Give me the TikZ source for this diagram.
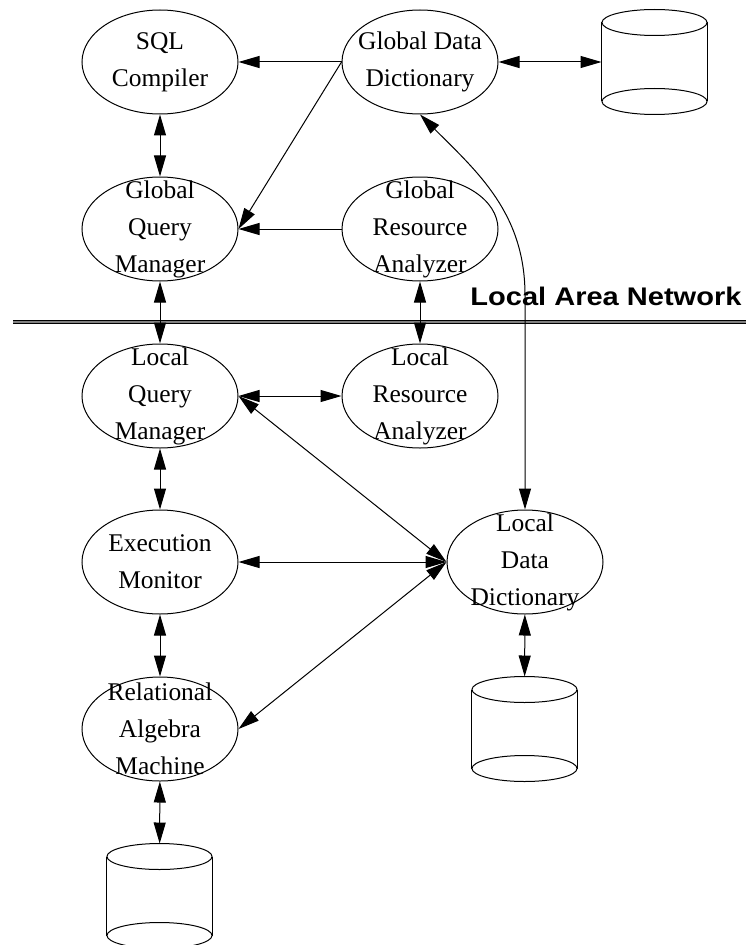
\documentclass[tikz,border=0pt]{standalone}
\usepackage{fontspec}
\setmainfont{Liberation Serif}
\newfontfamily\lanfont[FakeStretch=1.14]{Liberation Sans}
\usetikzlibrary{arrows.meta,shapes.geometric}

% disk drawn as a cylinder round an empty node
\newcommand{\storage}[2]{%
	\node[store_node] (#1) at #2 {};
	\draw ([yshift=-9.75pt]#1.north) ellipse (39.4pt and 9.75pt);
	\draw ([yshift=9.75pt]#1.south) ellipse (39.4pt and 9.75pt);
	\draw ([yshift=-9.75pt]#1.north west) -- ([yshift=9.75pt]#1.south west);
	\draw ([yshift=-9.75pt]#1.north east) -- ([yshift=9.75pt]#1.south east);
}

\begin{document}
\begin{tikzpicture}[x=0.75pt,y=-0.75pt,line width=0.75pt,
	>={Triangle[length=15.75pt,width=9pt]},
	proc_node/.style={ellipse,draw,minimum width=117pt,minimum height=78pt,inner sep=-1cm,align=center,font=\fontsize{19.1}{27.75}\selectfont},
	store_node/.style={rectangle,minimum width=78.75pt,minimum height=78pt,inner sep=0pt},
	lan_line/.style={line width=0.7pt,double=gray,double distance=1pt}]
		
		\useasboundingbox (0,0) rectangle (746,945);
		
		\node[proc_node] (sql) at (160,62) {SQL\\Compiler};
		\node[proc_node] (gdd) at (420,62) {Global Data\\Dictionary};
		\node[proc_node] (gqm) at (160,229) {Global\\Query\\Manager};
		\node[proc_node] (gra) at (420,229) {Global\\Resource\\Analyzer};
		\node[proc_node] (lqm) at (160,396) {Local\\Query\\Manager};
		\node[proc_node] (lra) at (420,396) {Local\\Resource\\Analyzer};
		\node[proc_node] (em) at (160,562) {Execution\\Monitor};
		\node[proc_node] (ldd) at (525,562) {Local\\Data\\Dictionary};
		\node[proc_node] (ram) at (160,729) {Relational\\Algebra\\Machine};
		
		\storage{db_global}{(654.5,62)}
		\storage{db_local}{(524.5,729)}
		\storage{db_ram}{(159.5,896)}
		
		% network
		\draw[lan_line] (13,322) -- (746,322);
		\node[anchor=base east,inner sep=0pt,font=\lanfont\bfseries\fontsize{19.1}{23}\selectfont] (lan) at (742,305) {Local Area Network};
		
		\coordinate (bend) at (525,295);
		
		\draw[<-] (sql) -- (gdd);
		\draw[->] (gdd.west) -- (gqm.east);
		\draw[<-] (gqm) -- (gra);
		\draw[<->] (sql) -- (gqm);
		\draw[<->] (gdd) -- (db_global);
		\draw[<->] (gdd.south) to[out=-45,in=90] (bend) -- (ldd);
		\draw[<->] (gqm) -- (lqm);
		\draw[<->] (gra) -- (lra);
		\draw[<->] (lqm) -- (lra);
		\draw[<->] (lqm.east) -- (ldd.west);
		\draw[<->] (em) -- (ldd);
		\draw[<->] (ram.east) -- (ldd.west);
		\draw[<->] (lqm) -- (em);
		\draw[<->] (em) -- (ram);
		\draw[<->] (ram) -- (db_ram);
		\draw[<->] (ldd) -- (db_local);
		\end{tikzpicture}
\end{document}
